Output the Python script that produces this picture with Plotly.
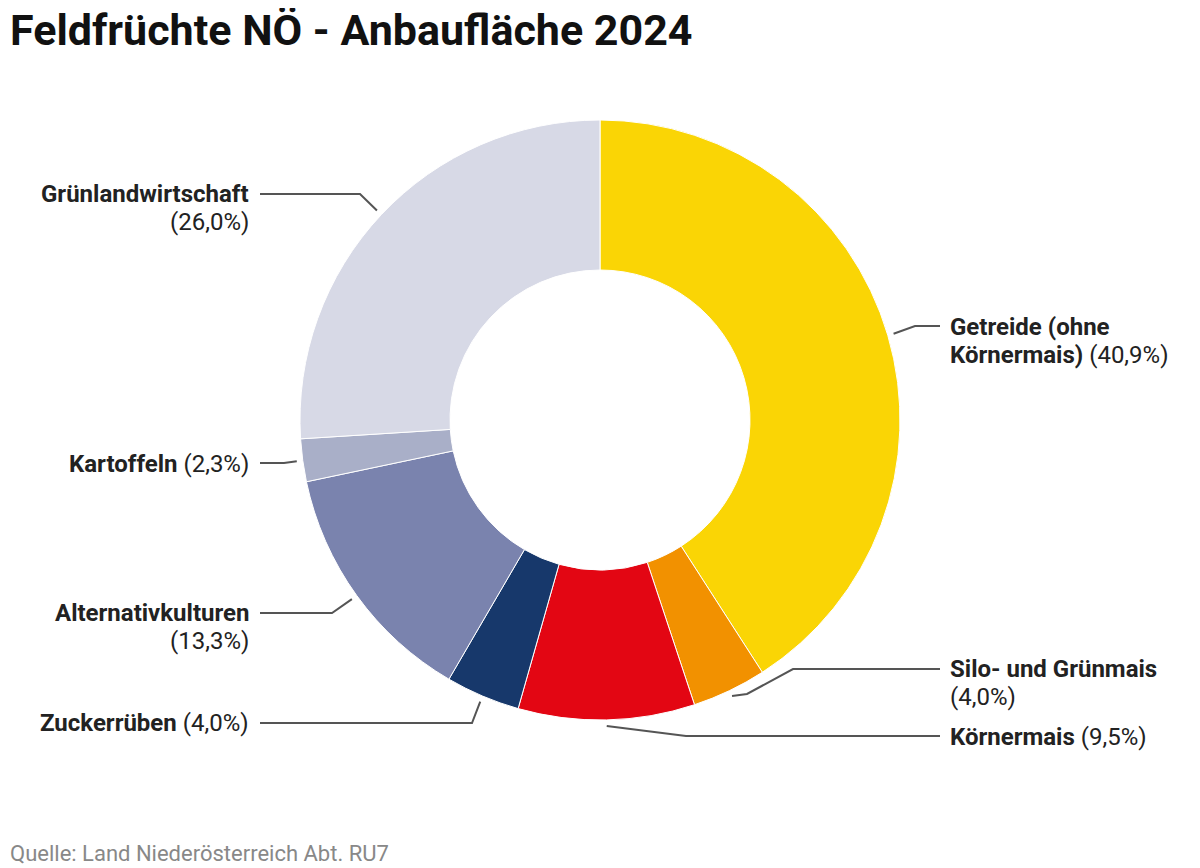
import math
import plotly.graph_objects as go

# Seite hat 8px Rand -> Figur etwas kleiner, Koordinaten verschoben
W, H = 1192, 860
OFF = 8

# Anbaufläche 2024 in Prozent
kulturen = ["Getreide (ohne Körnermais)", "Silo- und Grünmais", "Körnermais", "Zuckerrüben",
            "Alternativkulturen", "Kartoffeln", "Grünlandwirtschaft"]
anteile = [40.9, 4.0, 9.5, 4.0, 13.3, 2.3, 26.0]
farben = ["#FAD505", "#F29100", "#E30613", "#17386B", "#7A83AE", "#A9AFC8", "#D7D9E6"]

# Label-Zeilen: "{p}" wird durch den Prozentwert ersetzt
label_zeilen = [
    ["<b>Getreide (ohne</b>", "<b>Körnermais)</b> {p}"],
    ["<b>Silo- und Grünmais</b>", "{p}"],
    ["<b>Körnermais</b> {p}"],
    ["<b>Zuckerrüben</b> {p}"],
    ["<b>Alternativkulturen</b>", "{p}"],
    ["<b>Kartoffeln</b> {p}"],
    ["<b>Grünlandwirtschaft</b>", "{p}"],
]

# Layout der Beschriftungen (Pixel im Screenshot)
cx, cy, r_out = 600, 420, 300
zeilenabstand = 28
leader = [
    dict(knick=[(915, 326)], ende=(940, 326), ty=327, seite="r"),
    dict(knick=[(747, 694), (793, 669)], ende=(940, 669), ty=669, seite="r"),
    dict(knick=[(686, 736)], ende=(940, 736), ty=737, seite="r"),
    dict(knick=[(472, 723)], ende=(260, 723), ty=723, seite="l"),
    dict(knick=[(332, 613)], ende=(260, 613), ty=613, seite="l"),
    dict(knick=[(284, 463)], ende=(260, 463), ty=464, seite="l"),
    dict(knick=[(360, 194)], ende=(260, 194), ty=194, seite="l"),
]


def px(x):
    return (x - OFF) / W


def py(y):
    return 1 - (y - OFF) / H


fig = go.Figure(go.Pie(
    labels=kulturen, values=anteile, hole=0.5, sort=False, direction="clockwise", rotation=0,
    marker=dict(colors=farben, line=dict(color="white", width=1)),
    textinfo="none", hoverinfo="label+percent", showlegend=False,
    domain=dict(x=[px(cx - r_out), px(cx + r_out)], y=[py(cy + r_out), py(cy - r_out)]),
))

shapes = []
annotations = []
summe = sum(anteile)
kum = 0
for i, v in enumerate(anteile):
    mitte = (kum + v / 2) / summe
    kum += v
    a = 2 * math.pi * mitte
    sx = cx + (r_out + 6) * math.sin(a)
    sy = cy - (r_out + 6) * math.cos(a)
    pts = [(sx, sy)] + leader[i]["knick"] + [leader[i]["ende"]]
    path = "M " + " L ".join(f"{px(x)},{py(y)}" for x, y in pts)
    shapes.append(dict(type="path", path=path, xref="paper", yref="paper",
                       line=dict(color="#555555", width=2)))
    pct = f"({v:.1f}%)".replace(".", ",")
    rechts = leader[i]["seite"] == "r"
    for j, zeile in enumerate(label_zeilen[i]):
        annotations.append(dict(
            x=px(948 if rechts else 251), y=py(leader[i]["ty"] + j * zeilenabstand),
            xref="paper", yref="paper",
            xanchor="left" if rechts else "right", yanchor="middle",
            showarrow=False, text=zeile.replace("{p}", pct),
            font=dict(family="Roboto", size=24, color="#222222"),
        ))

annotations.append(dict(
    x=0, y=py(853), xref="paper", yref="paper", xanchor="left", yanchor="middle",
    showarrow=False, text="Quelle: Land Niederösterreich Abt. RU7",
    font=dict(family="Roboto", size=22, color="#888888"),
))

annotations.append(dict(
    x=0, y=py(30), xref="paper", yref="paper", xanchor="left", yanchor="middle",
    showarrow=False, text="<b>Feldfrüchte NÖ - Anbaufläche 2024</b>",
    font=dict(family="Roboto", size=43, color="#111111"),
))

fig.update_layout(
    width=W, height=H,
    margin=dict(l=0, r=0, t=0, b=0),
    paper_bgcolor="white", plot_bgcolor="white",
    shapes=shapes, annotations=annotations,
)

fig.write_html("out.html")
